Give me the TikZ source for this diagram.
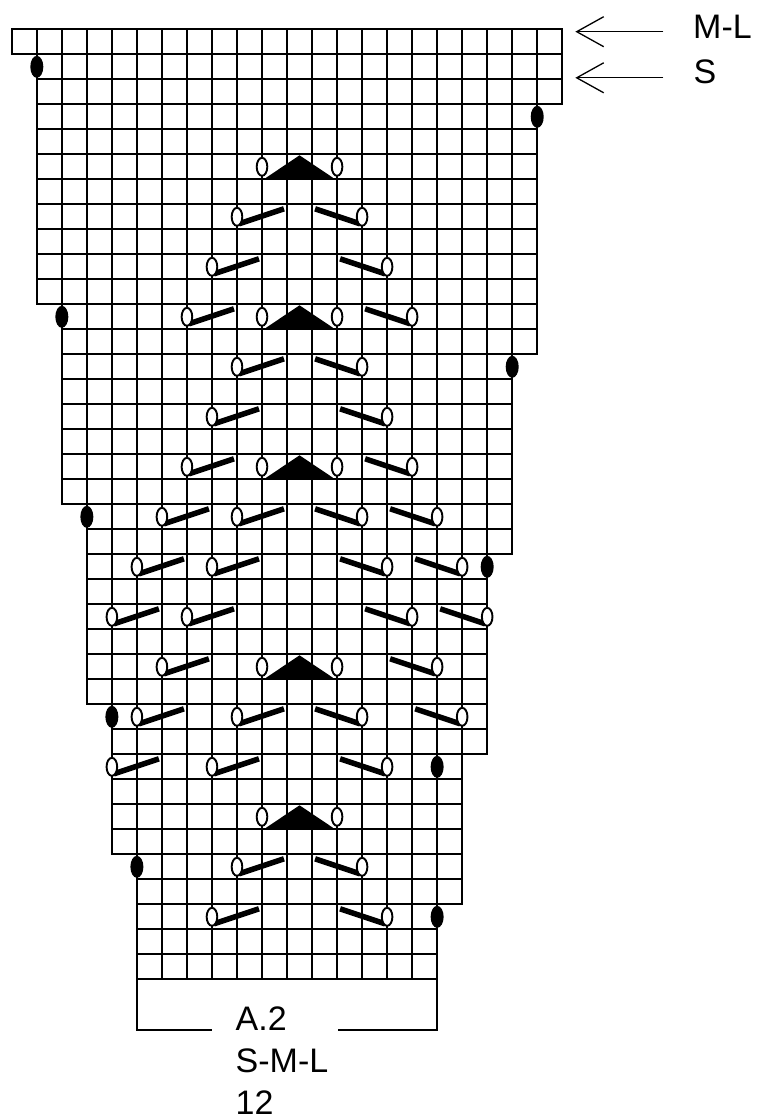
\documentclass[tikz,border=0pt]{standalone}
\usepackage{fontspec}
\setmainfont{Liberation Sans}
\begin{document}
\begin{tikzpicture}[x=1pt,y=-1pt,
  gridline/.style={line width=1.8pt,black},
  lbl/.style={inner sep=0pt,font=\fontsize{34}{34}\selectfont},
  decline/.style={line width=5.5pt,black},
  yo/.style={line width=1.9pt,draw=black,fill=white},
  arr/.style={line width=1.3pt,black}]
\useasboundingbox (0,0) rectangle (759,1119);
\def\X{11.8}\def\Y{29.3}\def\W{25.02}\def\H{25}
% grid rows: row/first column/last column+1
\foreach \r/\L/\R in {0/0/22,1/1/22,2/1/22,3/1/21,4/1/21,5/1/21,6/1/21,7/1/21,8/1/21,9/1/21,10/1/21,
  11/2/21,12/2/21,13/2/20,14/2/20,15/2/20,16/2/20,17/2/20,18/2/20,19/3/20,20/3/20,
  21/3/19,22/3/19,23/3/19,24/3/19,25/3/19,26/3/19,27/4/19,28/4/19,29/4/18,30/4/18,31/4/18,32/4/18,
  33/5/18,34/5/18,35/5/17,36/5/17,37/5/17}{
  \pgfmathtruncatemacro\Rm{\R-1}
  \foreach \c in {\L,...,\Rm}{
    \draw[gridline] ({\X+\c*\W},{\Y+\r*\H}) rectangle ++(\W,\H);
  }
}
% symbols
\newcommand{\blk}[2]{\fill[black] ({\X+#2*\W},{\Y+(#1+0.5)*\H}) ellipse [x radius=6.5pt, y radius=11pt];}
\newcommand{\yoval}[2]{\draw[yo] ({\X+#2*\W},{\Y+(#1+0.5)*\H}) ellipse [x radius=5.3pt, y radius=9pt];}
\newcommand{\ldec}[2]{\draw[decline] ({\X+#2*\W+2},{\Y+(#1+0.5)*\H+7}) -- ({\X+#2*\W+47},{\Y+(#1+0.5)*\H-8});\yoval{#1}{#2}}
\newcommand{\rdec}[2]{\draw[decline] ({\X+#2*\W-2},{\Y+(#1+0.5)*\H+7}) -- ({\X+#2*\W-47},{\Y+(#1+0.5)*\H-8});\yoval{#1}{#2}}
\newcommand{\tri}[1]{\fill[black] ({\X+10*\W+4},{\Y+(#1+1)*\H-1.5}) -- ({\X+11.5*\W},{\Y+#1*\H+1}) -- ({\X+13*\W-4},{\Y+(#1+1)*\H-1.5}) -- cycle;\yoval{#1}{10}\yoval{#1}{13}}
% black ovals (edges)
\blk{1}{1}\blk{3}{21}\blk{11}{2}\blk{13}{20}\blk{19}{3}\blk{21}{19}\blk{27}{4}\blk{29}{17}\blk{33}{5}\blk{35}{17}
% pattern
\tri{5}
\ldec{7}{9}\rdec{7}{14}
\ldec{9}{8}\rdec{9}{15}
\ldec{11}{7}\tri{11}\rdec{11}{16}
\ldec{13}{9}\rdec{13}{14}
\ldec{15}{8}\rdec{15}{15}
\ldec{17}{7}\tri{17}\rdec{17}{16}
\ldec{19}{6}\ldec{19}{9}\rdec{19}{14}\rdec{19}{17}
\ldec{21}{5}\ldec{21}{8}\rdec{21}{15}\rdec{21}{18}
\ldec{23}{4}\ldec{23}{7}\rdec{23}{16}\rdec{23}{19}
\ldec{25}{6}\tri{25}\rdec{25}{17}
\ldec{27}{5}\ldec{27}{9}\rdec{27}{14}\rdec{27}{18}
\ldec{29}{4}\ldec{29}{8}\rdec{29}{15}
\tri{31}
\ldec{33}{9}\rdec{33}{14}
\ldec{35}{8}\rdec{35}{15}
% size arrows
\node[lbl,anchor=base west] (ml) at (693,38.3) {M-L};
\node[lbl,anchor=base west] (s) at (693.5,83.3) {S};
\coordinate (mlstart) at (663.3,31.7);
\coordinate (mltip) at (576.7,31.7);
\coordinate (sstart) at (663.3,77.8);
\coordinate (stip) at (576.7,77.8);
\draw[arr] (mlstart) -- (mltip);
\draw[arr] ([shift={(27,-15)}]mltip) -- (mltip) -- ([shift={(27,15)}]mltip);
\draw[arr] (sstart) -- (stip);
\draw[arr] ([shift={(27,-15)}]stip) -- (stip) -- ([shift={(27,15)}]stip);
% bottom bracket
\coordinate (bl) at ({\X+5*\W},{\Y+38*\H});
\coordinate (br) at ({\X+17*\W},{\Y+38*\H});
\draw[gridline] (bl) -- ++(0,50.7) -- (211.7,1030);
\draw[gridline] (338.3,1030) -- ({\X+17*\W},1030) -- (br);
\node[lbl,anchor=base west] (a2) at (235.5,1030.7) {A.2};
\node[lbl,anchor=base west] (sml) at (235.5,1072.3) {S-M-L};
\node[lbl,anchor=base west] (n12) at (235.5,1114) {12};
\end{tikzpicture}
\end{document}
